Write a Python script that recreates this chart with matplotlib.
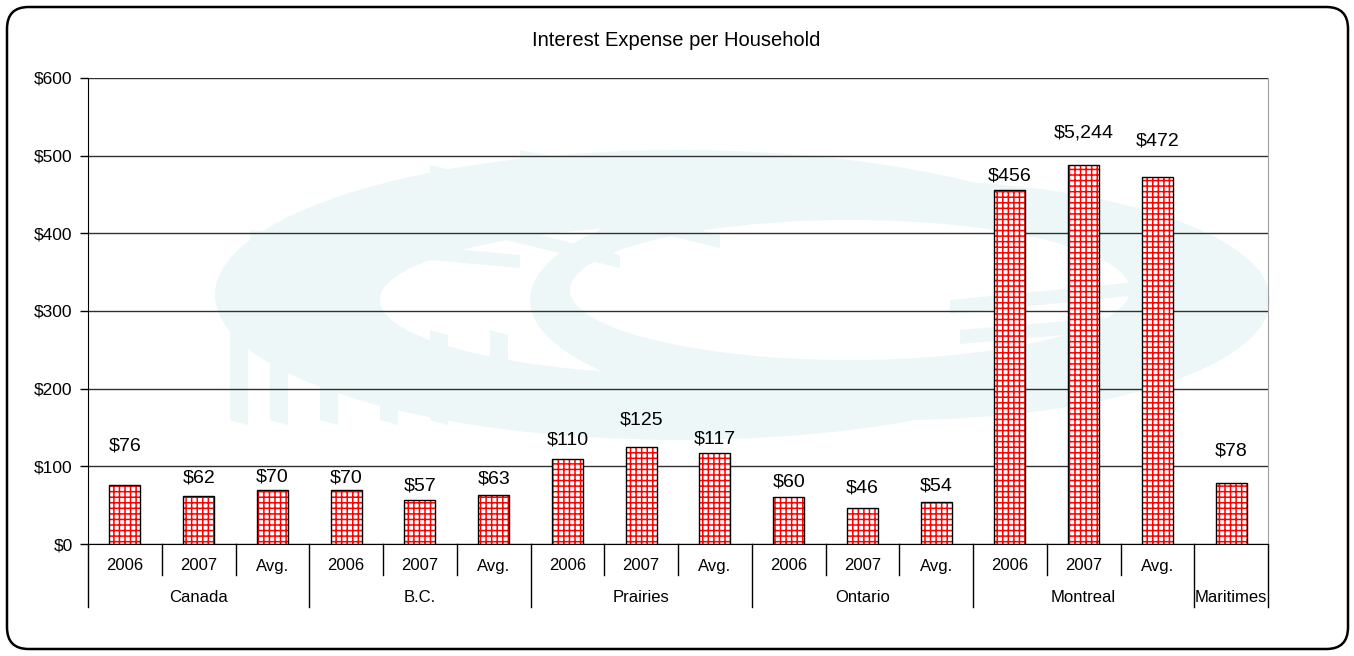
import numpy as np
import matplotlib
matplotlib.use("Agg")
import matplotlib.pyplot as plt
from matplotlib.patches import FancyBboxPatch, Ellipse, Polygon
import matplotlib.transforms as mtransforms

plt.rcParams['font.family'] = ['Liberation Sans', 'DejaVu Sans']
plt.rcParams['hatch.linewidth'] = 1.1

# data
groups = ['Canada', 'B.C.', 'Prairies', 'Ontario', 'Montreal', 'Maritimes']
group_sizes = [3, 3, 3, 3, 3, 1]
periods = ['2006', '2007', 'Avg.', '2006', '2007', 'Avg.', '2006', '2007', 'Avg.',
           '2006', '2007', 'Avg.', '2006', '2007', 'Avg.', '']
values = [76, 62, 70, 70, 57, 63, 110, 125, 117, 60, 46, 54, 456, 488, 472, 78]
value_labels = ['$76', '$62', '$70', '$70', '$57', '$63', '$110', '$125', '$117',
                '$60', '$46', '$54', '$456', '$5,244', '$472', '$78']
yticks = [0, 100, 200, 300, 400, 500, 600]

# label distance above bar top, in pixels (as placed in the original)
label_gap = [39, 18, 13, 12, 14, 16, 19, 27, 14, 15, 20, 16, 14, 32, 36, 32]

W, H = 1354, 656
fig = plt.figure(figsize=(W / 100, H / 100), dpi=100)
ax = fig.add_axes([88 / W, 1 - 544 / H, (1268 - 88) / W, (544 - 78) / H])
ax.set_facecolor('none')

# faint watermark logo behind the plot
wm = '#eef7f8'
px = lambda x, y: (x / W, 1 - y / H)
for p in [
    Ellipse(px(680, 295), 930 / W, 290 / H, fc=wm, ec='none'),
    Ellipse(px(700, 300), 640 / W, 150 / H, fc='white', ec='none'),
    Ellipse(px(900, 300), 740 / W, 240 / H, fc=wm, ec='none'),
    Ellipse(px(850, 290), 560 / W, 140 / H, fc='white', ec='none'),
]:
    p.set_transform(fig.transFigure)
    p.set_zorder(-2)
    fig.patches.append(p)
for x0, y0, x1, y1 in [(360, 190, 620, 260), (430, 165, 720, 240), (520, 150, 800, 205),
                       (620, 150, 900, 185), (250, 230, 520, 260),
                       (950, 300, 1260, 275), (960, 330, 1260, 310)]:
    p = Polygon([px(x0, y0), px(x1, y1 - 5), px(x1, y1 + 8), px(x0, y0 + 14)],
                closed=True, fc=wm, ec='none', transform=fig.transFigure, zorder=-2)
    fig.patches.append(p)
for xx in [230, 270, 320, 380, 430, 490]:
    p = Polygon([px(xx, 330), px(xx + 18, 335), px(xx + 18, 425), px(xx, 420)],
                closed=True, fc=wm, ec='none', transform=fig.transFigure, zorder=-2)
    fig.patches.append(p)

x = np.arange(len(values))
bw = 0.42
ax.bar(x, values, bw, color='white', edgecolor='red', hatch='+++', lw=0, zorder=3)
ax.bar(x, values, bw, color='none', edgecolor='black', lw=1.0, zorder=4)

for xi, v, lab, g in zip(x, values, value_labels, label_gap):
    ax.annotate(lab, (xi, v), xytext=(0, g * 0.72), textcoords='offset points',
                ha='center', va='center', fontsize=14, zorder=5)

ax.set_xlim(-0.5, len(values) - 0.5)
ax.set_ylim(0, 600)
ax.set_yticks(yticks)
ax.set_yticklabels(['${}'.format(t) for t in yticks], fontsize=12.5)
ax.tick_params(axis='y', length=6, width=1, pad=5)
ax.set_xticks([])
ax.yaxis.grid(True, color='#303030', lw=1)
ax.set_axisbelow(True)
ax.spines['top'].set_visible(False)
ax.spines['right'].set_color('#a0a0a0')
ax.spines['left'].set_color('black')
ax.spines['bottom'].set_color('black')

# category axis with two rows of labels
tr = mtransforms.blended_transform_factory(ax.transData, ax.transAxes)
ah = 544 - 78
row1 = -31 / ah
row2 = -63 / ah
bounds = np.cumsum([0] + group_sizes) - 0.5
for b in np.arange(-0.5, len(values) + 0.5):
    bottom = row2 if np.any(np.isclose(bounds, b)) else row1
    ax.plot([b, b], [0, bottom], color='black', lw=1, transform=tr, clip_on=False)
for xi, p in zip(x, periods):
    ax.text(xi, -22 / ah, p, ha='center', va='center', fontsize=12, transform=tr)
for g, a, b in zip(groups, bounds[:-1], bounds[1:]):
    ax.text((a + b) / 2, -54 / ah, g, ha='center', va='center', fontsize=12, transform=tr)

fig.text(676 / W, 1 - 40 / H, 'Interest Expense per Household', ha='center', va='center',
         fontsize=14.5)

# rounded outer frame
frame = FancyBboxPatch((7 / W, 7 / H), (1348 - 7) / W, (649 - 7) / H,
                       boxstyle='round,pad=0,rounding_size=0.016', transform=fig.transFigure,
                       fc='none', ec='black', lw=1.8, mutation_aspect=W / H)
fig.patches.append(frame)

fig.savefig('out.png', dpi=100)
